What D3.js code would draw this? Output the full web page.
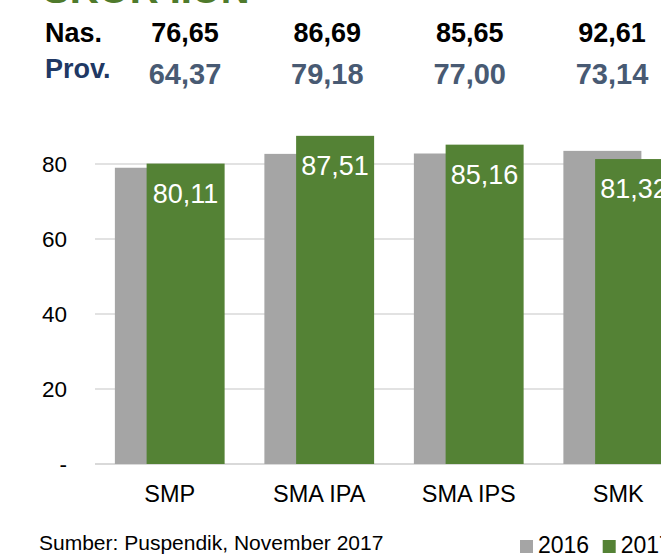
<!DOCTYPE html>
<html>
<head>
<meta charset="utf-8">
<script src="https://cdn.jsdelivr.net/npm/d3@7"></script>
<style>
    body { margin: 0; background: #fff; }
    svg { display: block; font-family: 'Liberation Sans', Arial, sans-serif; }
</style>
</head>
<body>
<svg id="chart" width="661" height="556"></svg>
<script>
// chart values
const categories = ['SMP', 'SMA IPA', 'SMA IPS', 'SMK'];
const series = ['2016', '2017'];
const values2016 = [79.0, 82.7, 82.8, 83.5];
const values2017 = [80.11, 87.51, 85.16, 81.32];
const labels2017 = ['80,11', '87,51', '85,16', '81,32'];
const yTicks = [0, 20, 40, 60, 80];
const yTickLabels = ['-', '20', '40', '60', '80'];

// header table
const title = 'SKOR IIUN';
const nasLabels = ['76,65', '86,69', '85,65', '92,61'];
const provLabels = ['64,37', '79,18', '77,00', '73,14'];
const source = 'Sumber: Puspendik, November 2017';

const colors = { '2016': '#a5a5a5', '2017': '#548235' };
const grid = '#d9d9d9';

const svg = d3.select('#chart');

const x0 = d3.scaleBand().domain(categories).range([95, 693]).paddingInner(0.266).paddingOuter(0.133);
const y = d3.scaleLinear().domain([0, 80]).range([464, 164]);
const barW = 78;
// bars overlap, 2017 sits on top shifted to the right
const offset = { '2016': 0, '2017': x0.bandwidth() - barW };

// title, mostly cut off at the top
svg.append('text')
    .attr('x', 43)
    .attr('y', 3)
    .attr('fill', '#4f7a2c')
    .style('font-size', '40px')
    .style('font-weight', 'bold')
    .text(title);

// header rows
const hx = d3.scalePoint().domain(categories).range([185, 612]);

svg.append('text').attr('x', 45).attr('y', 42)
    .style('font-size', '27px').style('font-weight', 'bold').attr('fill', '#000')
    .text('Nas.');
svg.append('text').attr('x', 45).attr('y', 78)
    .style('font-size', '27px').style('font-weight', 'bold').attr('fill', '#203864')
    .text('Prov.');

svg.append('g').selectAll('text')
    .data(categories)
    .join('text')
    .attr('x', (d) => hx(d))
    .attr('y', 42)
    .attr('text-anchor', 'middle')
    .style('font-size', '27px').style('font-weight', 'bold').attr('fill', '#000')
    .text((d, i) => nasLabels[i]);

svg.append('g').selectAll('text')
    .data(categories)
    .join('text')
    .attr('x', (d) => hx(d))
    .attr('y', 84)
    .attr('text-anchor', 'middle')
    .style('font-size', '29px').style('font-weight', 'bold').attr('fill', '#485a73')
    .text((d, i) => provLabels[i]);

// gridlines
svg.append('g').selectAll('line')
    .data(yTicks)
    .join('line')
    .attr('x1', 95).attr('x2', 661)
    .attr('y1', (d) => y(d)).attr('y2', (d) => y(d))
    .attr('stroke', grid)
    .attr('stroke-width', (d) => (d === 0 ? 2 : 1.5));

// y labels
svg.append('g').selectAll('text')
    .data(yTicks)
    .join('text')
    .attr('x', 67)
    .attr('y', (d) => y(d))
    .attr('dy', '0.36em')
    .attr('text-anchor', 'end')
    .style('font-size', '22.5px')
    .attr('fill', '#000')
    .text((d, i) => yTickLabels[i]);

// bars
const rows = categories.map((c, i) => ({ cat: c, '2016': values2016[i], '2017': values2017[i], lab: labels2017[i] }));

series.forEach((s) => {
    svg.append('g').selectAll('rect')
        .data(rows)
        .join('rect')
        .attr('x', (d) => x0(d.cat) + offset[s])
        .attr('y', (d) => y(d[s]))
        .attr('width', barW)
        .attr('height', (d) => y(0) - y(d[s]))
        .attr('fill', colors[s]);
});

// data labels for 2017
svg.append('g').selectAll('text')
    .data(rows)
    .join('text')
    .attr('x', (d) => x0(d.cat) + offset['2017'] + barW / 2)
    .attr('y', (d) => y(d['2017']) + 39)
    .attr('text-anchor', 'middle')
    .style('font-size', '27px')
    .attr('fill', '#fff')
    .text((d) => d.lab);

// category labels
svg.append('g').selectAll('text')
    .data(categories)
    .join('text')
    .attr('x', (d) => x0(d) + x0.bandwidth() / 2)
    .attr('y', 502)
    .attr('text-anchor', 'middle')
    .style('font-size', '23.5px')
    .attr('fill', '#000')
    .text((d) => d);

// source
svg.append('text')
    .attr('x', 39).attr('y', 550)
    .style('font-size', '21px')
    .attr('fill', '#000')
    .text(source);

// legend
const legend = svg.append('g').selectAll('g')
    .data(series)
    .join('g')
    .attr('transform', (d, i) => `translate(${520 + i * 82.7},540)`);
legend.append('rect').attr('width', 13).attr('height', 13).attr('fill', (d) => colors[d]);
legend.append('text')
    .attr('x', 18).attr('y', 13)
    .style('font-size', '23px')
    .attr('fill', '#000')
    .text((d) => d);
</script>
</body>
</html>
